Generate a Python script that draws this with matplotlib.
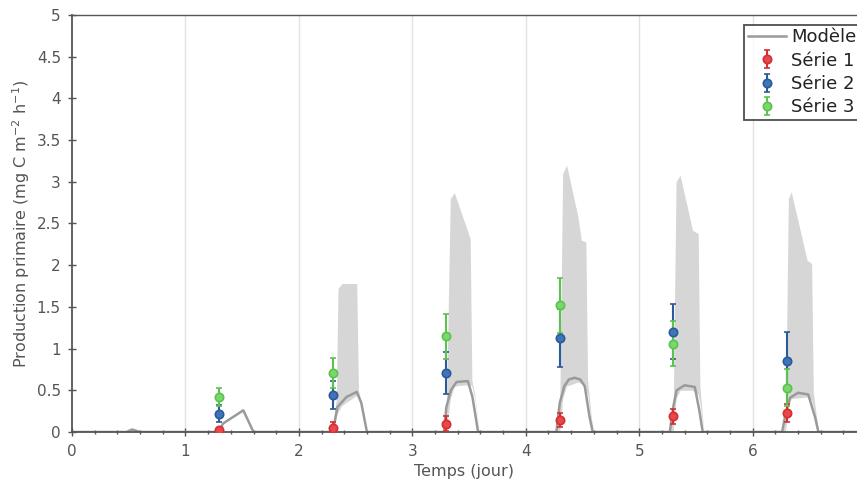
import matplotlib
matplotlib.use("Agg")
import matplotlib.pyplot as plt
import numpy as np
from matplotlib.ticker import MultipleLocator, FormatStrFormatter

# ---- data ----
days = [1.3, 2.3, 3.3, 4.3, 5.3, 6.3]
serie1 = [0.02, 0.05, 0.10, 0.14, 0.19, 0.23]
serie1_err = [0.02, 0.07, 0.09, 0.085, 0.09, 0.11]
serie2 = [0.22, 0.44, 0.71, 1.13, 1.20, 0.85]
serie2_err = [0.10, 0.17, 0.25, 0.35, 0.33, 0.35]
serie3 = [0.42, 0.71, 1.15, 1.52, 1.06, 0.53]
serie3_err = [0.11, 0.18, 0.27, 0.33, 0.27, 0.22]

# model line (time, value)
model_t = [0.0, 0.48, 0.53, 0.60, 1.30, 1.33, 1.51, 1.60,
           2.30, 2.34, 2.42, 2.51, 2.55, 2.60,
           3.28, 3.30, 3.34, 3.39, 3.49, 3.53, 3.58,
           4.27, 4.30, 4.34, 4.38, 4.43, 4.48, 4.52, 4.56, 4.59,
           5.27, 5.30, 5.33, 5.40, 5.49, 5.53, 5.56,
           6.26, 6.29, 6.33, 6.40, 6.49, 6.55, 6.58, 6.92]
model_y = [0.0, 0.0, 0.03, 0.0, 0.0, 0.10, 0.26, 0.0,
           0.0, 0.30, 0.42, 0.48, 0.35, 0.0,
           0.0, 0.30, 0.50, 0.60, 0.61, 0.42, 0.0,
           0.0, 0.35, 0.55, 0.63, 0.65, 0.63, 0.55, 0.20, 0.0,
           0.0, 0.30, 0.50, 0.56, 0.54, 0.26, 0.0,
           0.0, 0.22, 0.41, 0.47, 0.45, 0.18, 0.0, 0.0]

# model uncertainty band (time, low, high)
band_t = [0.0, 2.29, 2.33, 2.345, 2.38, 2.51, 2.525, 2.55, 2.60,
          3.27, 3.30, 3.335, 3.37, 3.51, 3.525, 3.55, 3.59,
          4.26, 4.30, 4.325, 4.36, 4.46, 4.49, 4.53, 4.545, 4.58, 4.60,
          5.26, 5.30, 5.325, 5.36, 5.47, 5.52, 5.535, 5.57,
          6.25, 6.29, 6.315, 6.34, 6.48, 6.52, 6.535, 6.58, 6.92]
band_lo = [0.0, 0.0, 0.20, 0.24, 0.32, 0.44, 0.44, 0.32, 0.0,
           0.0, 0.0, 0.40, 0.55, 0.57, 0.55, 0.40, 0.0,
           0.0, 0.0, 0.40, 0.55, 0.60, 0.58, 0.50, 0.45, 0.10, 0.0,
           0.0, 0.0, 0.40, 0.50, 0.50, 0.45, 0.35, 0.0,
           0.0, 0.0, 0.30, 0.40, 0.42, 0.38, 0.30, 0.0, 0.0]
band_hi = [0.0, 0.0, 0.40, 1.72, 1.78, 1.78, 0.50, 0.36, 0.0,
           0.0, 0.30, 2.80, 2.87, 2.32, 0.62, 0.45, 0.0,
           0.0, 0.35, 3.10, 3.20, 2.58, 2.30, 2.28, 0.62, 0.15, 0.0,
           0.0, 0.30, 3.00, 3.08, 2.42, 2.38, 0.55, 0.0,
           0.0, 0.22, 2.80, 2.88, 2.06, 2.02, 0.47, 0.0, 0.0]

# ---- figure ----
fig = plt.figure(figsize=(8.57, 4.86), dpi=100)
ax = fig.add_axes([72 / 857, 1 - 432 / 486, 1 - 72 / 857, (432 - 15) / 486])

for d in range(1, 7):
    ax.axvline(d, color="#e2e2e2", lw=1.0, zorder=0)

ax.fill_between(band_t, band_lo, band_hi, color="#d6d6d6", lw=0, zorder=1)
ax.plot(model_t, model_y, color="#9a9a9a", lw=1.8, zorder=2, label="Modèle")

styles = [("Série 1", serie1, serie1_err, "#e8484a", "#d42f33"),
          ("Série 2", serie2, serie2_err, "#3f75b8", "#2a5a9a"),
          ("Série 3", serie3, serie3_err, "#78d86a", "#5cc24e")]
for name, vals, errs, face, edge in styles:
    ax.errorbar(days, vals, yerr=errs, fmt="o", ms=6, mfc=face, mec=edge,
                mew=1.2, ecolor=edge, elinewidth=1.5, capsize=2.5,
                capthick=1.3, zorder=4, label=name)

ax.set_xlim(0, 6.92)
ax.set_ylim(0, 5)
ax.xaxis.set_major_locator(MultipleLocator(1))
ax.xaxis.set_minor_locator(MultipleLocator(0.2))
ax.yaxis.set_major_locator(MultipleLocator(0.5))
ax.yaxis.set_major_formatter(FormatStrFormatter("%g"))

tick_col = "#555555"
ax.tick_params(axis="both", which="major", direction="inout", length=6,
               width=1.0, colors="#555555", labelsize=11, labelcolor=tick_col)
ax.tick_params(axis="x", which="minor", direction="inout", length=3,
               width=1.0, colors="#555555")
ax.tick_params(axis="x", which="major", pad=6)
ax.tick_params(axis="y", which="major", pad=5)

for s in ["left", "bottom"]:
    ax.spines[s].set_color("#555555")
    ax.spines[s].set_linewidth(1.3)
ax.spines["top"].set_color("#555555")
ax.spines["top"].set_linewidth(1.0)
ax.spines["right"].set_visible(False)

ax.set_xlabel("Temps (jour)", fontsize=11.5, color="#555555", labelpad=3)
ax.set_ylabel("Production primaire (mg C m$^{-2}$ h$^{-1}$)", fontsize=11.5,
              color="#555555", labelpad=3)

leg = ax.legend(loc="upper right", bbox_to_anchor=(1.004, 0.977), fontsize=13,
                frameon=True, fancybox=False, edgecolor="#222222",
                borderpad=0.2, handlelength=2.1, handletextpad=0.3,
                labelspacing=0.3, borderaxespad=0.0)
leg.get_frame().set_linewidth(1.3)
for txt in leg.get_texts():
    txt.set_color("#222222")

fig.savefig("out.png", dpi=100)
